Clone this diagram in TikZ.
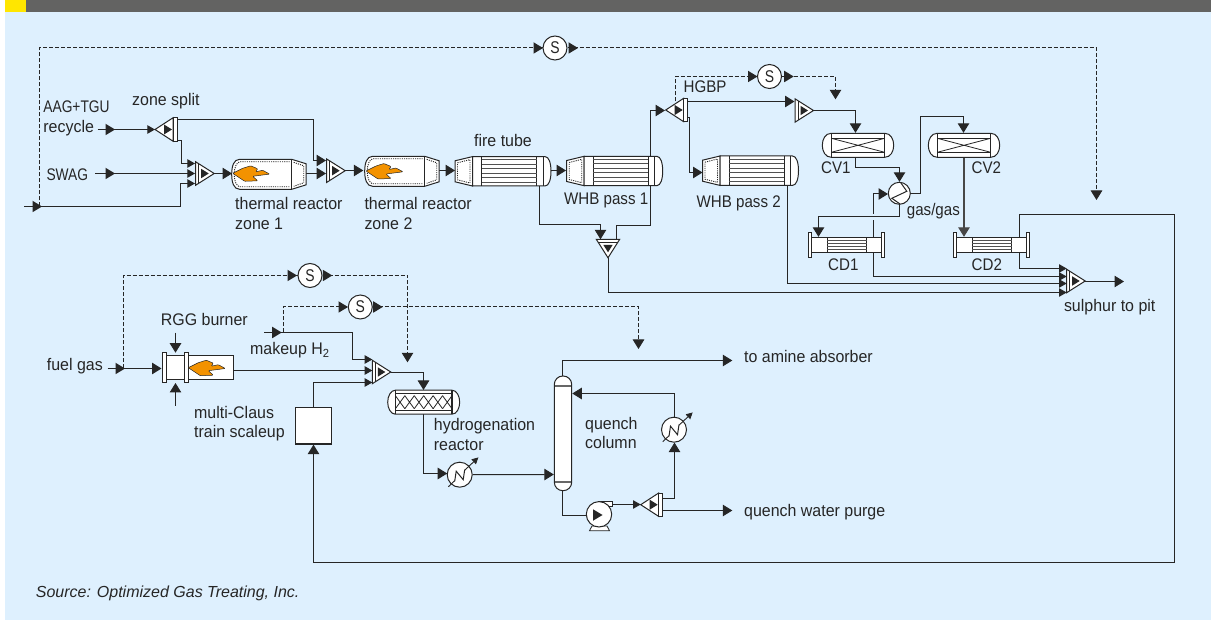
\documentclass[tikz,border=0pt]{standalone}
\usepackage{fontspec}
\setmainfont[FakeStretch=0.95]{Liberation Sans}
\newfontfamily\srcfont{Liberation Sans}
\newfontfamily\nara[FakeStretch=0.82]{Liberation Sans}
\newfontfamily\narb[FakeStretch=0.9]{Liberation Sans}
\usetikzlibrary{arrows.meta}
\definecolor{panel}{HTML}{DEF0FE}
\definecolor{hdr}{HTML}{636362}
\definecolor{yel}{HTML}{FFE600}
\definecolor{ink}{HTML}{262626}
\definecolor{flameor}{HTML}{F39200}
\pgfdeclarelayer{bg}\pgfdeclarelayer{conn}\pgfsetlayers{bg,conn,main}
\tikzset{
 eq/.style={draw=ink,line width=1pt,fill=white},
 thin line/.style={draw=ink,line width=.8pt},
 dotline/.style={draw=ink,line width=.9pt,dash pattern=on 1.1pt off 1.1pt},
 tube/.style={draw=ink!80,line width=1pt},
 flow/.style={draw=ink,line width=1pt,-{Triangle[length=9.5pt,width=11.5pt]}},
 flows/.style={draw=ink,line width=1pt,-{Triangle[length=7.7pt,width=8.5pt]}},
 plain/.style={draw=ink,line width=1pt},
 dsh/.style={draw=ink,line width=1pt,dash pattern=on 4pt off 2pt},
 dflow/.style={dsh,-{Triangle[length=9.5pt,width=11.5pt]}},
 lab/.style={anchor=west,inner sep=0pt,text height=11pt,text depth=3pt,text=ink,font=\fontsize{16.8}{20}\selectfont},
 snode/.style={circle,draw=ink,line width=1pt,fill=white,minimum size=24pt,inner sep=0pt,text=ink,font=\nara\fontsize{17}{18}\selectfont},
 port/.style={coordinate}
}
\newcommand\hd[2]{\fill[ink,shift={(#1)},rotate=#2] (0,0)--(-9.5,-5.75)--(-9.5,5.75)--cycle;}
\newcommand\mixer[4]{% name, x, y, rot
 \begin{scope}[shift={(#2,#3)},rotate=#4]
 \node[port] (#1) at (0,0) {};
 \draw[eq] (0,-11.7)--(18.5,0)--(0,11.7)--cycle;
 \draw[thin line] (3,-9.7)--(3,9.7);
 \fill[ink] (5.5,-4.7)--(13,0)--(5.5,4.7)--cycle;
 \end{scope}}
\newcommand\splitter[3]{% name, tip x, y
 \begin{scope}[shift={(#2,#3)}]
 \node[port] (#1) at (0,0) {};
 \draw[eq] (0,0)--(18,-11.7)--(18,11.7)--cycle;
 \draw[eq] (18,-11.7) rectangle (22,11.7);
 \fill[ink] (9,-5)--(17,0)--(9,5)--cycle;
 \end{scope}}
\newcommand\flame[2]{\filldraw[fill=flameor,draw=ink,line width=.5pt,rounded corners=.8pt,shift={(#1,#2)}]
 (0,0)--(10,-5)--(18,-7.5)--(25,-4.5)--(23,-1.5)--(30,-3)--(37,.8)--(20,3)--(25,7.5)--(12,8)--cycle;}
\newcommand\reactor[3]{% name,x,y
 \begin{scope}[shift={(#2,#3)}]
 \node[port] (#1) at (0,0) {};
 \draw[eq] (60,-15)--(8,-15) .. controls (2,-15) and (0,-8) .. (0,0) .. controls (0,8) and (2,15) .. (8,15) --(60,15)--(74.5,10.5)--(74.5,-10.5)--cycle;
 \draw[thin line] (60,-15)--(60,15);
 \draw[dotline] (58,-12.5)--(8,-12.5) .. controls (5,-12) and (2.5,-7) .. (2.5,0) .. controls (2.5,7) and (5,12) .. (8,12.5)--(58,12.5);
 \draw[dotline] (62,-12)--(72,-8.5)--(72,8.5)--(62,12);
 \end{scope}}
\newcommand\whb[3]{% name,x,y
 \begin{scope}[shift={(#2,#3)}]
 \node[port] (#1) at (0,0) {};
 \draw[eq] (0,-10.5)--(17.5,-14.7)--(17.5,14.7)--(0,10.5)--cycle;
 \draw[dotline] (2.5,-8.5)--(15,-11.7)--(15,11.7)--(2.5,8.5)--cycle;
 \draw[eq] (17.5,-14.7)--(90,-14.7) .. controls (94,-14.7) and (96,-8) .. (96,0) .. controls (96,8) and (94,14.7) .. (90,14.7)--(17.5,14.7)--cycle;
 \draw[thin line] (26.5,-14.7)--(26.5,14.7) (81.5,-14.7)--(81.5,14.7) (88,-14.7)--(88,14.7);
 \foreach \yy in {-11.5,-7,-2.5,2,6.5,11}{\draw[tube] (26.5,\yy)--(81.5,\yy);}
 \end{scope}}
\newcommand\cond[3]{% name,x,y
 \begin{scope}[shift={(#2,#3)}]
 \node[port] (#1) at (0,0) {};
 \draw[eq] (3.4,-7.7) rectangle (72.7,7.7);
 \draw[eq,line width=.8pt] (0,-12.3) rectangle (3.4,12.3);
 \draw[eq,line width=.8pt] (72.7,-12.3) rectangle (76,12.3);
 \draw[thin line] (19,-7.7)--(19,7.7) (58.4,-7.7)--(58.4,7.7);
 \foreach \yy in {-4.6,-1.5,1.5,4.6}{\draw[tube,line width=.8pt] (19,\yy)--(58.4,\yy);}
 \end{scope}}
\newcommand\vesselbody[3]{% x half width inner half width inner line y
 \draw[eq] (-#2,-12)--(#2,-12) .. controls (#1-3,-12) and (#1,-6) .. (#1,0) .. controls (#1,6) and (#1-3,12) .. (#2,12)--(-#2,12) .. controls (-#1+3,12) and (-#1,6) .. (-#1,0) .. controls (-#1,-6) and (-#1+3,-12) .. (-#2,-12)--cycle;
 \draw[thin line,line width=1.2pt] (-#2,-12)--(-#2,12) (#2,-12)--(#2,12);
 \draw[thin line] (-#2,-#3)--(#2,-#3) (-#2,#3)--(#2,#3);}
\newcommand\cv[3]{% name,x,y
 \begin{scope}[shift={(#2,#3)}]
 \node[port] (#1) at (0,0) {};
 \vesselbody{35.7}{26.7}{7}
 \draw[thin line] (-26.7,-7)--(26.7,7) (-26.7,7)--(26.7,-7);
 \end{scope}}
\newcommand\cooler[3]{% name,x,y
 \begin{scope}[shift={(#2,#3)}]
 \node[circle,draw=ink,line width=1pt,fill=white,minimum size=25pt,inner sep=0pt] (#1) at (0,0) {};
 \draw[line width=.9pt,draw=ink,-{Triangle[length=6.5pt,width=6.5pt]}] (-11.3,12)--(-5,6) (5,-4.5)--(18.7,-17.3);
 \draw[thin line,line width=1pt] (-5,6.5)--(-3.5,-3.5)--(3.5,5)--(5,-5);
 \end{scope}}
\begin{document}
\begin{tikzpicture}[x=1pt,y=-1pt]
\useasboundingbox (0,0) rectangle (1211,620);
\begin{pgfonlayer}{bg}
 \fill[white] (0,0) rectangle (1211,620);
 \fill[panel] (5,0) rectangle (1211,620);
 \fill[hdr] (5,0) rectangle (1211,12);
 \fill[yel] (5,0) rectangle (26,12);
\end{pgfonlayer}

% ---------- named nodes with a simple shape
\node[snode] (s1) at (555,48) {S};
\node[snode] (s2) at (769.5,76.5) {S};
\node[snode] (s3) at (310,275.5) {S};
\node[snode] (s4) at (360.3,307) {S};
\node[draw=ink,line width=1.2pt,fill=white,minimum width=36.7pt,minimum height=36.7pt,inner sep=0pt] (scale) at (313.5,425.7) {};

% ---------- equipment
\mixer{m1}{195.7}{173.5}{0}
\mixer{m2}{326.7}{170.7}{0}
\mixer{m3}{608}{239.3}{-90}
\mixer{m4}{1066.7}{281}{0}
\mixer{m5}{372.3}{372}{0}
\mixer{m6}{795}{110.5}{0}
\splitter{sp1}{155}{129.5}
\splitter{sp2}{665.7}{110}
\splitter{sp3}{640.7}{504.7}
\reactor{r1}{231.7}{174.3}
\reactor{r2}{364.7}{171.3}
\flame{232.7}{173.3}
\flame{366}{171}
\whb{ft}{455}{171.3}
\whb{w1}{566.7}{171}
\whb{w2}{702.5}{170.7}
\cond{cd1}{808.3}{245}
\cond{cd2}{953.3}{245}
\cv{cv1}{858}{145.3}
\cv{cv2}{964}{145.3}
% gas/gas exchanger
\node[circle,draw=ink,line width=1pt,fill=white,minimum size=22pt,inner sep=0pt] (gg) at (899.3,193.3) {};
\draw[thin line,line width=1pt] (900.8,182.8)--(906.8,191.3)--(891.8,198.3)--(899.8,203.8);
% burner
\draw[eq] (188.3,355.7) rectangle (233,380);
\node[draw=ink,line width=1pt,fill=white,minimum width=19pt,minimum height=24.3pt,inner sep=0pt] (brn) at (175.5,367.8) {};
\draw[eq,line width=.8pt] (162.7,352.7) rectangle (166,382.7);
\draw[eq,line width=.8pt] (184.3,352.7) rectangle (188,382.7);
\flame{188.3}{367.7}
% hydrogenation reactor
\begin{scope}[shift={(423.7,402.2)}]
 \node[port] (hr) at (0,0) {};
 \vesselbody{36}{28.3}{8.7}
 \foreach \i in {0,...,5}{\draw[thin line] (-28.3+\i*9.43,-6.5)--(-28.3+\i*9.43+9.43,6.5) (-28.3+\i*9.43,6.5)--(-28.3+\i*9.43+9.43,-6.5);}
\end{scope}
% coolers
\cooler{c1}{459.7}{474.7}
\cooler{c2}{674}{429.7}
% quench column
\draw[eq,rounded corners=8.5pt] (554.3,376) rectangle (571.7,490.7);
\node[port] (qc) at (563,433) {};
\draw[tube,draw=ink!70,line width=1.2pt] (554.8,386)--(571.2,386) (554.8,482)--(571.2,482);
% pump
\draw[eq,line width=.8pt] (600,501.3) rectangle (612.7,506);
\draw[eq,line width=.8pt] (592,526)--(607,526)--(609.5,530.7)--(589.5,530.7)--cycle;
\node[circle,draw=ink,line width=1pt,fill=white,minimum size=25.4pt,inner sep=0pt] (pump) at (599,514.3) {};
\hd{602.5,515}{0}

% ---------- ports
\coordinate (feedIn) at (24,206.5);
\coordinate (feedJ) at (39.5,206.5);
\coordinate (m1a) at (195,163.5);
\coordinate (m1b) at (195,173.5);
\coordinate (m1c) at (195,183.5);
\coordinate (m2a) at (326,160.5);
\coordinate (m2b) at (326,173.5);
\coordinate (aagIn) at (97.6,129.5);
\coordinate (swagIn) at (95,173.5);
\coordinate (sp1t) at (177,119.5);
\coordinate (sp1b) at (177,140.5);
\coordinate (r1in) at (232,173.5);
\coordinate (r1out) at (306,173.5);
\coordinate (r2in) at (363.3,170.5);
\coordinate (r2out) at (439.2,170.5);
\coordinate (ftIn) at (455,170.5);
\coordinate (ftOut) at (550.7,170.5);
\coordinate (w1in) at (566,170.5);
\coordinate (ftBot) at (539.5,186);
\coordinate (w1Bot) at (650.5,186);
\coordinate (m3a) at (600.5,239.3);
\coordinate (m3b) at (616.5,239.3);
\coordinate (sp2in) at (665,110.5);
\coordinate (sp2t) at (687.7,101.5);
\coordinate (sp2b) at (687.7,117.5);
\coordinate (sp2d) at (675.5,101.5);
\coordinate (m6a) at (794.5,101.5);
\coordinate (cv1t) at (855.5,132.8);
\coordinate (cv1b) at (855.5,157.3);
\coordinate (ggTop) at (899.5,181.8);
\coordinate (cv2t) at (963.5,132.8);
\coordinate (cv2b) at (964,157.3);
\coordinate (ggE) at (910.3,193.5);
\coordinate (ggS) at (899.5,204.3);
\coordinate (cd1t) at (818.5,236.8);
\coordinate (cd2t) at (964,236.8);
\coordinate (ggW) at (888,194);
\coordinate (cd1a) at (873.5,237.3);
\coordinate (cd1b) at (873.5,252.7);
\coordinate (cd2a) at (1019.5,237.3);
\coordinate (cd2b) at (1019.5,252.7);
\coordinate (w2in) at (702.5,172.5);
\coordinate (w2Bot) at (787.5,185.4);
\coordinate (m4a) at (1066.7,268.5);
\coordinate (m4b) at (1066.7,276.5);
\coordinate (m4c) at (1066.7,283.5);
\coordinate (m4d) at (1066.7,292.5);
\coordinate (pit) at (1124,281.5);
\coordinate (m3out) at (608.5,258);
\coordinate (dropA) at (1096.5,200);
\coordinate (dropB) at (835.5,99.3);
\coordinate (fuelIn) at (107.7,368.5);
\coordinate (fuelJ) at (123.5,368.5);
\coordinate (brnIn) at (161.5,368.5);
\coordinate (brnT0) at (175.5,332.7);
\coordinate (brnT) at (175.5,352.7);
\coordinate (brnB0) at (175.5,405.7);
\coordinate (brnB) at (175.5,383);
\coordinate (brnOut) at (233,370.5);
\coordinate (m5a) at (372.3,359.5);
\coordinate (m5b) at (372.3,370.5);
\coordinate (m5c) at (372.3,382.5);
\coordinate (h2In) at (264,332.5);
\coordinate (h2J) at (283.5,332.5);
\coordinate (dropC) at (407.5,362.3);
\coordinate (dropD) at (638.5,349);
\coordinate (hrT) at (423.5,390);
\coordinate (hrB) at (423.5,414);
\coordinate (c1in) at (447.2,473.5);
\coordinate (qcIn) at (553.8,474.5);
\coordinate (qcT) at (562.5,376);
\coordinate (amine) at (732.3,360.5);
\coordinate (qcB) at (562.5,490.7);
\coordinate (pumpIn) at (587,515);
\coordinate (pumpOut) at (612.7,504.5);
\coordinate (sp3in) at (640.7,504.5);
\coordinate (sp3t) at (662.7,498.5);
\coordinate (sp3b) at (662.7,510.5);
\coordinate (purge) at (732.3,510.5);
\coordinate (c2in) at (674.5,442.6);
\coordinate (c2out) at (674.5,417.2);
\coordinate (qcR) at (572.3,393.5);

% ---------- connectors
\begin{pgfonlayer}{conn}
 \draw[dsh] (feedJ) |- (s1.west);
 \hd{543,48}{0}
 \draw[dflow] (s1.east) -| (dropA);
 \hd{578,48}{0}
 \draw[plain] (feedIn) -- (feedJ);
 \draw[flows] (feedJ) -| (180.5,195) |- (m1c);
 \hd{42,206.5}{0}
 \draw[flows] (aagIn) -- (sp1.west |- aagIn);
 \hd{115,129.5}{0}
 \draw[flows] (swagIn) -- (m1b);
 \hd{115,173.5}{0}
 \draw[flows] (sp1b) -| (181.5,150) |- (m1a);
 \draw[flow] (sp1t) -| (313.5,140) |- (m2a);
 \draw[flow] (214.2,173.5) -- (r1in);
 \draw[flow] (r1out) -- (m2b);
 \draw[flow] (345.2,170.5) -- (r2in);
 \draw[flow] (r2out) -- (ftIn);
 \draw[flow] (ftOut) -- (w1in);
 \draw[flow] (ftBot) |- (570,224.5) -| (m3a);
 \draw[flow] (m3b) |- (640,225.5) -| (650.5,170) |- (sp2in);
 \draw[flows] (m3out) |- (m4d);
 \draw[dsh] (sp2d) |- (s2.west);
 \hd{757.5,76.5}{0}
 \draw[dflow] (s2.east) -| (dropB);
 \hd{793.7,76.5}{0}
 \draw[flow] (sp2t) -- (m6a);
 \draw[flow] (sp2b) -| (689.5,140) |- (w2in);
 \draw[flow] (813.5,110.5) -| (cv1t);
 \draw[flow] (cv1b) |- (880,167.5) -| (ggTop);
 \draw[flow] (ggE) -| (920.5,150) |- (940,116.5) -| (cv2t);
 \draw[flow] (ggS) |- (850,216.5) -| (cd1t);
 \draw[flow,line width=1.3pt,draw=ink!85] (cv2b) -- (cd2t);
 \draw[plain] (cd1a) -- (873.5,220);
 \draw[flow] (873.5,214) |- (ggW);
 \draw[flows] (cd1b) |- (m4b);
 \draw[flows] (cd2b) |- (m4a);
 \draw[flows] (w2Bot) |- (m4c);
 \draw[flow] (cd2a) |- (1100,214.5) -| (1174.5,400) |- (700,562.5) -| (scale.south);
 \draw[flow] (1085,281.5) -- (pit);
 \draw[plain] (fuelIn) -- (fuelJ);
 \hd{125,368.5}{0}
 \draw[flow] (fuelJ) -- (brnIn);
 \draw[dsh] (fuelJ) |- (s3.west);
 \hd{297,275.5}{0}
 \draw[dflow] (s3.east) -| (dropC);
 \hd{332.3,275.5}{0}
 \draw[flow] (brnT0) -- (brnT);
 \draw[flow] (brnB0) -- (brnB);
 \draw[flows] (brnOut) -- (m5b);
 \draw[plain] (h2In) -- (h2J);
 \draw[flows] (h2J) -| (352.5,345) |- (m5a);
 \hd{281.7,332.5}{0}
 \draw[dsh] (h2J) |- (s4.west);
 \hd{348,307}{0}
 \draw[dflow] (s4.east) -| (dropD);
 \hd{382.7,307}{0}
 \draw[flows] (scale.north) |- (m5c);
 \draw[flow] (390.7,372.5) -| (hrT);
 \draw[flow] (hrB) |- (c1in);
 \draw[flow] (c1.east) -- (qcIn);
 \draw[flow] (qcT) |- (amine);
 \draw[plain] (qcB) |- (pumpIn);
 \draw[flows] (pumpOut) -- (sp3in);
 \draw[flow] (sp3t) -| (c2in);
 \draw[flow] (c2out) |- (qcR);
 \draw[flow] (sp3b) -- (purge);
\end{pgfonlayer}

% ---------- labels
\node[lab] (tAAG) at (43.2,109) {\nara AAG+TGU};
\node[lab] (tRec) at (43.2,129) {recycle};
\node[lab] (tZone) at (132,102) {zone split};
\node[lab] (tSWAG) at (46.3,176.7) {\nara SWAG};
\node[lab] (tTR1) at (235,206) {thermal reactor};
\node[lab] (tZ1) at (235,226) {zone 1};
\node[lab] (tTR2) at (364.3,206) {thermal reactor};
\node[lab] (tZ2) at (364.3,226) {zone 2};
\node[lab] (tFT) at (474,143) {fire tube};
\node[lab] (tW1) at (564,201) {\narb WHB pass 1};
\node[lab] (tW2) at (696.5,203.3) {\narb WHB pass 2};
\node[lab] (tHGBP) at (683.4,88.7) {\narb HGBP};
\node[lab] (tCV1) at (821,170) {\narb CV1};
\node[lab] (tCV2) at (971.5,170) {\narb CV2};
\node[lab] (tGG) at (906.7,211.7) {\narb gas/gas};
\node[lab] (tCD1) at (828,266.7) {\narb CD1};
\node[lab] (tCD2) at (971.5,266.7) {\narb CD2};
\node[lab] (tPit) at (1063.8,308) {sulphur to pit};
\node[lab] (tFuel) at (46.7,366.7) {fuel gas};
\node[lab] (tRGG) at (160.7,321.7) {RGG burner};
\node[lab] (tH2) at (250,351) {makeup H\textsubscript{2}};
\node[lab] (tMC) at (194,415) {multi-Claus};
\node[lab] (tTS) at (194,434) {train scaleup};
\node[lab] (tHyd) at (433.7,426.7) {hydrogenation};
\node[lab] (tHR) at (433.7,446) {reactor};
\node[lab] (tQ) at (585,425.7) {quench};
\node[lab] (tCol) at (585,445) {column};
\node[lab] (tAm) at (744,358.3) {to amine absorber};
\node[lab] (tPur) at (744,512.3) {quench water purge};
\node[anchor=west,inner sep=0pt,text=ink,font=\srcfont\itshape\fontsize{16}{18}\selectfont] (tSrc) at (35.7,593.3) {Source: Optimized Gas Treating, Inc.};
\end{tikzpicture}
\end{document}
